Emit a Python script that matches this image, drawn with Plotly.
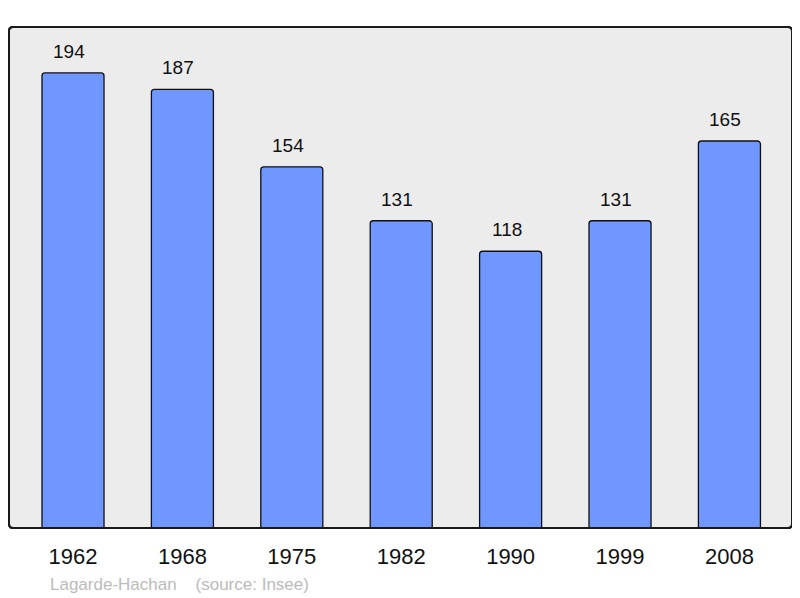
import plotly.graph_objects as go

years = ["1962", "1968", "1975", "1982", "1990", "1999", "2008"]
population = [194, 187, 154, 131, 118, 131, 165]
footer_text = "Lagarde-Hachan&nbsp;&nbsp;&nbsp;&nbsp;(source: Insee)"

# page body has an 8px default margin; compensate
OFF = 8
W, H = 800 - OFF, 598 - OFF
L, R, T = 9 - OFF, 8, 27 - OFF
pw, ph = 783, 501
B = H - T - ph

fig = go.Figure()
fig.add_trace(go.Bar(
    x=list(range(len(years))), y=population,
    width=0.567,
    marker=dict(color="#7096ff", line=dict(color="#111111", width=1.3), cornerradius=3),
    hoverinfo="skip",
))

for i, v in enumerate(population):
    fig.add_annotation(x=i, y=v, text=str(v), showarrow=False, yanchor="bottom",
                       yshift=9, xshift=-4,
                       font=dict(family="Liberation Sans, Arial", size=19, color="#111111"))

fig.add_annotation(xref="paper", yref="paper", x=(48 - 9) / pw, y=(528 - 584) / ph,
                   xanchor="left", yanchor="middle", text=footer_text, showarrow=False,
                   font=dict(family="Liberation Sans, Arial", size=17, color="#bbbbbb"))

rx, ry = 4 / pw, 4 / ph
path = (f"M {rx},0 L {1-rx},0 Q 1,0 1,{ry} L 1,{1-ry} Q 1,1 {1-rx},1 "
        f"L {rx},1 Q 0,1 0,{1-ry} L 0,{ry} Q 0,0 {rx},0 Z")
fig.add_shape(type="path", xref="paper", yref="paper", path=path,
              fillcolor="#ececec", line=dict(color="#1a1a1a", width=2), layer="below")
fig.add_shape(type="path", xref="paper", yref="paper", path=path,
              fillcolor="rgba(0,0,0,0)", line=dict(color="#1a1a1a", width=2), layer="above")

fig.update_layout(
    width=W, height=H, margin=dict(l=L, r=R, t=T, b=B, pad=0),
    paper_bgcolor="white", plot_bgcolor="rgba(0,0,0,0)",
    showlegend=False,
    xaxis=dict(range=[-0.585, 6.572], tickmode="array", tickvals=list(range(len(years))),
               ticktext=years, showgrid=False, zeroline=False, showline=False,
               ticks="outside", ticklen=9, tickcolor="rgba(0,0,0,0)",
               tickfont=dict(family="Liberation Sans, Arial", size=22, color="#111111"),
               fixedrange=True),
    yaxis=dict(range=[0, 213.6], showgrid=False, zeroline=False, showline=False,
               showticklabels=False, fixedrange=True),
)

fig.write_html("out.html", config={"displayModeBar": False})
